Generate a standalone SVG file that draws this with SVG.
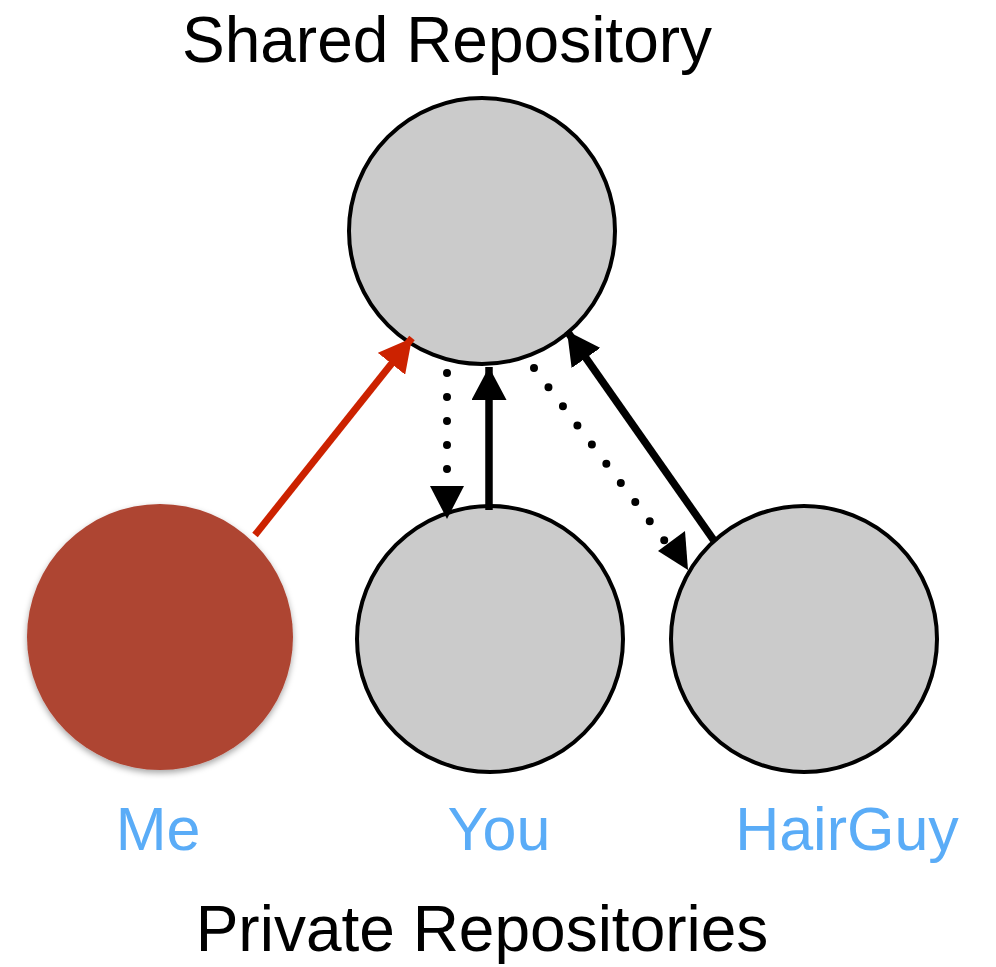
<svg xmlns="http://www.w3.org/2000/svg" width="996" height="967" viewBox="0 0 996 967">
<defs>
<style>
.repo{fill:#cbcbcb;stroke:#000;stroke-width:4}
.title{font-family:"Liberation Sans",Arial,sans-serif;font-size:64px;fill:#000;text-anchor:middle}
.lbl{font-family:"Liberation Sans",Arial,sans-serif;font-size:61px;fill:#5aacf7;text-anchor:middle}
.solid{stroke:#000;stroke-width:7.5;fill:none}
.dot{stroke:#000;stroke-width:8;fill:none;stroke-linecap:round;stroke-dasharray:0 24}
.red{stroke:#cc2200;stroke-width:7;fill:none}
</style>
<marker id="ah" viewBox="0 0 33 35" refX="33" refY="17.5" markerWidth="33" markerHeight="35" markerUnits="userSpaceOnUse" orient="auto">
<path d="M0,0 L33,17.5 L0,35 Z" fill="#000"/>
</marker>
<marker id="ahr" viewBox="0 0 33 35" refX="33" refY="17.5" markerWidth="33" markerHeight="35" markerUnits="userSpaceOnUse" orient="auto">
<path d="M0,0 L33,17.5 L0,35 Z" fill="#cc2200"/>
</marker>
<filter id="sh" x="-20%" y="-20%" width="140%" height="140%">
<feDropShadow dx="0" dy="3" stdDeviation="3" flood-color="#000" flood-opacity="0.35"/>
</filter>
</defs>
<rect width="996" height="967" fill="#fff"/>
<text class="title" x="447" y="62">Shared Repository</text>
<g id="shared"><circle class="repo" cx="482" cy="231" r="133"/></g>
<g id="me"><circle cx="160" cy="637" r="133" fill="#ae4432" filter="url(#sh)"/><text class="lbl" x="158" y="850">Me</text></g>
<g id="you"><circle class="repo" cx="490" cy="639" r="133"/><text class="lbl" x="499" y="850">You</text></g>
<g id="hairguy"><circle class="repo" cx="804" cy="639" r="133"/><text class="lbl" x="847" y="850">HairGuy</text></g>
<g id="connectors">
<path class="red" d="M255,535 L412,338" marker-end="url(#ahr)"/>
<path class="dot" d="M447,373 L447,488"/>
<path d="M430,486 L464,486 L447,519 Z" fill="#000"/>
<path class="solid" d="M489,510 L489,367" marker-end="url(#ah)"/>
<path class="dot" d="M534,368 L670,548"/>
<path d="M688,570 L658,551 L685,531 Z" fill="#000"/>
<path class="solid" d="M715,542 L567,331" marker-end="url(#ah)"/>
</g>
<text class="title" x="482" y="951">Private Repositories</text>
</svg>
